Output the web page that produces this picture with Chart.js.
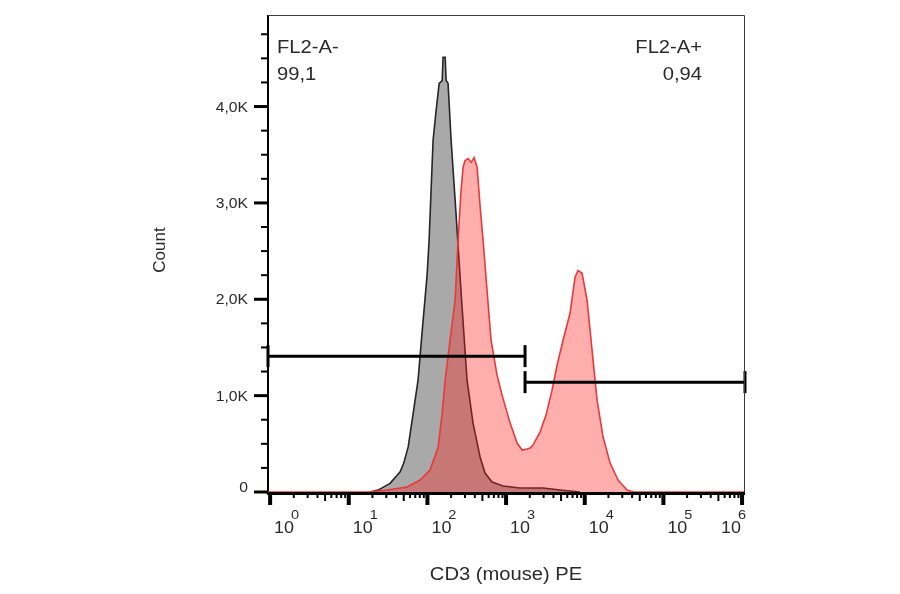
<!DOCTYPE html>
<html>
<head>
<meta charset="utf-8">
<script src="https://cdn.jsdelivr.net/npm/chart.js@4"></script>
<style>
  body { margin: 0; background: #fff; }
  canvas { display: block; }
</style>
</head>
<body>
<canvas id="histo" width="900" height="594"></canvas>
<script>
/* =====================================
   DATA
======================================== */

// unstained control (grey)
const grayX = [18.7, 23.6, 33.5, 45, 50, 57, 66, 76, 86, 99, 105, 118, 129, 141, 154, 158, 168, 173, 183, 200, 225, 243, 272, 319, 380, 467, 540, 664, 916, 1500, 2950, 4860, 8700];
const grayCounts = [0, 20, 90, 210, 300, 470, 820, 1160, 1680, 2250, 2610, 3650, 3960, 4240, 4270, 4510, 4510, 4270, 4240, 3650, 3030, 2610, 1990, 1160, 715, 363, 197, 104, 62, 41, 41, 20, 0];

// CD3 PE stained (red)
const redX = [0.94, 18.7, 30.7, 55, 80.7, 108, 137, 154, 168, 194, 225, 245, 268, 284, 301, 329, 359, 392, 428, 467, 510, 573, 644, 768, 889, 1125, 1380, 1597, 1850, 2020, 2200, 2700, 3220, 3840, 4450, 5300, 6500, 7530, 8230, 9250, 10700, 12400, 14350, 17100, 21000, 26500, 34500, 41100, 1.09e6];
const redCounts = [0, 0, 20, 52, 124, 228, 466, 819, 1160, 1575, 1990, 2610, 3130, 3370, 3440, 3460, 3420, 3470, 3370, 2970, 2610, 2090, 1575, 1210, 1005, 715, 508, 435, 446, 456, 487, 622, 798, 1057, 1316, 1575, 1855, 2228, 2300, 2270, 1990, 1470, 953, 570, 300, 124, 20, 0, 0];

// gates
const gateNegX = [0.94, 1742];
const gateNegY = 1410;
const gatePosX = [1742, 1.09e6];
const gatePosY = 1140;

// axes
const xMin = 0.94;
const xMax = 1.09e6;
const yMax = 4950;
const xTickValues = [1, 10, 100, 1000, 10000, 100000, 1000000];
const xTickExponents = ["0", "1", "2", "3", "4", "5", "6"];
const yTickValues = [0, 1000, 2000, 3000, 4000];
const yTickLabels = ["0", "1,0K", "2,0K", "3,0K", "4,0K"];

const gateNames = ["FL2-A-", "FL2-A+"];
const gatePercents = ["99,1", "0,94"];

function zip(xs, ys) {
    return xs.map((x, i) => ({ x: x, y: Array.isArray(ys) ? ys[i] : ys }));
}

/* =====================================
   Axes plugin (FlowJo look)
======================================== */

const textColor = "#2a2a2a";
const sx = 1.12; // the reference text is a bit wide

function drawText(ctx, txt, x, y, align, font) {
    ctx.save();
    ctx.translate(x, y);
    ctx.scale(sx, 1);
    ctx.font = font;
    ctx.textAlign = align;
    ctx.fillStyle = textColor;
    ctx.fillText(txt, 0, 0);
    ctx.restore();
}

function textWidth(ctx, txt, font) {
    ctx.save();
    ctx.font = font;
    const w = ctx.measureText(txt).width * sx;
    ctx.restore();
    return w;
}

const flowAxes = {
    id: "flowAxes",
    beforeDatasetsDraw(chart) {
        const ctx = chart.ctx;
        const area = chart.chartArea;
        const xs = chart.scales.x;
        const ys = chart.scales.y;

        ctx.save();
        ctx.strokeStyle = "#000";
        ctx.lineCap = "butt";

        // left + bottom axis lines
        ctx.lineWidth = 2;
        ctx.beginPath();
        ctx.moveTo(area.left, area.top);
        ctx.lineTo(area.left, area.bottom + 2);
        ctx.stroke();
        ctx.lineWidth = 3;
        ctx.beginPath();
        ctx.moveTo(area.left - 1, area.bottom + 1.5);
        ctx.lineTo(area.right, area.bottom + 1.5);
        ctx.stroke();

        // y ticks every 250
        for (let v = 0; v <= yMax; v += 250) {
            const y = ys.getPixelForValue(v);
            const major = v % 1000 === 0;
            ctx.lineWidth = major ? 3 : 2;
            ctx.beginPath();
            ctx.moveTo(area.left - (major ? 14 : 7), y);
            ctx.lineTo(area.left, y);
            ctx.stroke();
        }

        // x ticks, log decades with minors
        for (let d = 0; d < xTickValues.length; d++) {
            const base = xTickValues[d];
            for (let m = 1; m <= 9; m++) {
                const v = base * m;
                if (v > xMax) break;
                const x = xs.getPixelForValue(v);
                const len = m === 1 ? 13 : (m === 5 ? 9 : 6);
                ctx.lineWidth = m === 1 ? 4 : 2;
                ctx.beginPath();
                ctx.moveTo(x, area.bottom);
                ctx.lineTo(x, area.bottom + len);
                ctx.stroke();
            }
        }
        ctx.restore();

        // y labels
        yTickValues.forEach((v, i) => {
            let y = ys.getPixelForValue(v) + 5;
            if (v === 0) y -= 5;
            drawText(ctx, yTickLabels[i], 248, y, "right", "14px 'Liberation Sans', Arial, sans-serif");
        });

        // x labels 10^n
        const f1 = "16px 'Liberation Sans', Arial, sans-serif";
        const f2 = "13px 'Liberation Sans', Arial, sans-serif";
        xTickValues.forEach((v, i) => {
            let cx = xs.getPixelForValue(v) + 16;
            if (cx + 12 > area.right) cx = area.right - 12;
            const w1 = textWidth(ctx, "10", f1);
            const w2 = textWidth(ctx, xTickExponents[i], f2);
            const left = cx - (w1 + w2 - 4) / 2;
            drawText(ctx, "10", left, 533, "left", f1);
            drawText(ctx, xTickExponents[i], left + w1 - 3, 519, "left", f2);
        });

        // axis titles
        drawText(ctx, "CD3 (mouse) PE", 506, 580, "center", "18px 'Liberation Sans', Arial, sans-serif");
        ctx.save();
        ctx.translate(165, 250);
        ctx.rotate(-Math.PI / 2);
        ctx.font = "17px 'Liberation Sans', Arial, sans-serif";
        ctx.textAlign = "center";
        ctx.fillStyle = textColor;
        ctx.fillText("Count", 0, 0);
        ctx.restore();
    },
    afterDatasetsDraw(chart) {
        const ctx = chart.ctx;
        const area = chart.chartArea;
        // thin frame top/right
        ctx.save();
        ctx.strokeStyle = "#3a3a3a";
        ctx.lineWidth = 1;
        ctx.beginPath();
        ctx.moveTo(area.left, area.top + 0.5);
        ctx.lineTo(area.right - 0.5, area.top + 0.5);
        ctx.lineTo(area.right - 0.5, area.bottom);
        ctx.stroke();
        ctx.restore();

        // gate annotations
        const font = "18px 'Liberation Sans', Arial, sans-serif";
        drawText(ctx, gateNames[0], area.left + 9, 53, "left", font);
        drawText(ctx, gatePercents[0], area.left + 9, 80, "left", font);
        drawText(ctx, gateNames[1], 702, 53, "right", font);
        drawText(ctx, gatePercents[1], 702, 80, "right", font);
    }
};

/* =====================================
   CHART
======================================== */

const gateStyle = {
    borderColor: "#000",
    borderWidth: 3,
    fill: false,
    clip: false,
    pointStyle: "line",
    rotation: 90,
    pointRadius: 11,
    pointBorderWidth: 3,
    pointBorderColor: "#000",
    order: 0
};

const histoChart = new Chart(document.getElementById("histo"), {
    type: "line",
    data: {
        datasets: [
            Object.assign({ data: zip(gateNegX, gateNegY) }, gateStyle),
            Object.assign({ data: zip(gatePosX, gatePosY) }, gateStyle),
            {
                data: zip(redX, redCounts),
                borderColor: "#e8393b",
                borderWidth: 1.6,
                backgroundColor: "rgba(255, 30, 30, 0.36)",
                fill: "origin",
                pointRadius: 0,
                tension: 0,
                order: 1
            },
            {
                data: zip(grayX, grayCounts),
                borderColor: "#262626",
                borderWidth: 1.6,
                backgroundColor: "#a9a9a9",
                fill: "origin",
                pointRadius: 0,
                tension: 0,
                order: 2
            }
        ]
    },
    options: {
        responsive: false,
        animation: false,
        layout: {
            padding: { left: 268, right: 155, top: 15, bottom: 102 }
        },
        scales: {
            x: { type: "logarithmic", min: xMin, max: xMax, display: false },
            y: { type: "linear", min: 0, max: yMax, display: false }
        },
        plugins: {
            legend: { display: false },
            tooltip: { enabled: false }
        }
    },
    plugins: [flowAxes]
});
</script>
</body>
</html>
